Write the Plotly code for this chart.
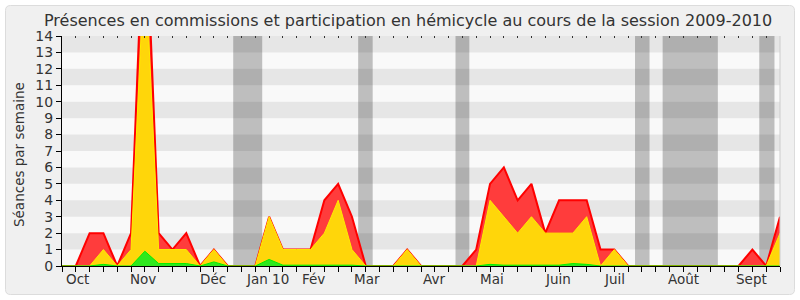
import plotly.graph_objects as go

weeks = list(range(53))
hemicycle_presence = [0, 0, 2, 2, 0, 2, 23, 2, 1, 2, 0, 1, 0, 0, 0, 3, 1, 1, 1, 4, 5, 3, 0, 0, 0, 1,
                      0, 0, 0, 0, 1, 5, 6, 4, 5, 2, 4, 4, 4, 1, 1, 0, 0, 0, 0, 0, 0, 0, 0, 0, 1, 0, 3]
hemicycle_participation = [0, 0, 0, 1, 0, 1, 19, 1, 1, 1, 0, 1, 0, 0, 0, 3, 1, 1, 1, 2, 4, 1, 0, 0, 0, 1,
                           0, 0, 0, 0, 0, 4, 3, 2, 3, 2, 2, 2, 3, 0, 1, 0, 0, 0, 0, 0, 0, 0, 0, 0, 0, 0, 2]
commission_presence = [0, 0, 0, 0.1, 0, 0, 0.9, 0.15, 0.15, 0.15, 0, 0.25, 0, 0, 0, 0.4, 0.05, 0.05, 0.05,
                       0.05, 0.05, 0.05, 0, 0, 0, 0, 0, 0, 0, 0, 0, 0.1, 0.05, 0.05, 0.05, 0.05, 0.05,
                       0.15, 0.1, 0, 0, 0, 0, 0, 0, 0, 0, 0, 0, 0, 0, 0, 0]
vacations = [(12.4, 14.5), (21.45, 22.5), (28.5, 29.5), (41.5, 42.55), (43.5, 47.5), (50.5, 51.6)]
month_labels = ["Oct", "Nov", "Déc", "Jan 10", "Fév", "Mar", "Avr", "Mai", "Juin", "Juil", "Août", "Sept"]
month_pos = [1.09, 5.89, 10.97, 14.9, 18.2, 22.09, 26.94, 31.14, 35.92, 40.0, 45.01, 49.93]
y_ticks = list(range(15))

W, H = 800, 300
L, R, T, B = 62, 20, 36, 34
pw, ph = W - L - R, H - T - B
XMAX, YMAX = 52, 14


def px_x(p):
    return (p - L) / pw


def px_y(p):
    return (H - B - p) / ph


fig = go.Figure()
fig.add_trace(go.Scatter(x=weeks, y=hemicycle_presence, mode="lines", fill="tozeroy",
                         line=dict(color="#ff0000", width=2), fillcolor="#ff3c3c",
                         hoverinfo="skip", showlegend=False))
fig.add_trace(go.Scatter(x=weeks, y=hemicycle_participation, mode="lines", fill="tozeroy",
                         line=dict(color="#ffec00", width=1), fillcolor="#ffd60a",
                         hoverinfo="skip", showlegend=False))
fig.add_trace(go.Scatter(x=weeks, y=commission_presence, mode="lines", fill="tozeroy",
                         line=dict(color="#00ee00", width=1), fillcolor="#2ee81e",
                         hoverinfo="skip", showlegend=False))
fig.add_trace(go.Scatter(x=[0, XMAX], y=[0, 0], xaxis="x2", mode="lines",
                         line=dict(width=0), hoverinfo="skip", showlegend=False))

shapes = []
# outer rounded frame
x0, x1 = px_x(5.5), px_x(794.5)
y0, y1 = px_y(294.5), px_y(5.5)
rx, ry = 5 / pw, 5 / ph
path = (f"M {x0+rx},{y1} L {x1-rx},{y1} Q {x1},{y1} {x1},{y1-ry} L {x1},{y0+ry} Q {x1},{y0} {x1-rx},{y0} "
        f"L {x0+rx},{y0} Q {x0},{y0} {x0},{y0+ry} L {x0},{y1-ry} Q {x0},{y1} {x0+rx},{y1} Z")
shapes.append(dict(type="path", path=path, xref="paper", yref="paper", layer="below",
                   fillcolor="#f0f0f0", line=dict(color="#dcdcdc", width=1)))
# plot area background
shapes.append(dict(type="rect", xref="paper", yref="paper", x0=0, x1=1, y0=0, y1=1, layer="below",
                   fillcolor="#f9f9f9", line=dict(width=0)))
for a, b in vacations:
    shapes.append(dict(type="rect", xref="paper", yref="paper", x0=a / XMAX, x1=b / XMAX, y0=0, y1=1,
                       layer="below", fillcolor="#bebebe", line=dict(width=0)))
for k in range(1, 14, 2):
    shapes.append(dict(type="rect", xref="paper", yref="paper", x0=0, x1=1, y0=k / YMAX, y1=(k + 1) / YMAX,
                       layer="below", fillcolor="rgba(0,0,0,0.075)", line=dict(width=0)))
shapes.append(dict(type="line", xref="paper", yref="paper", x0=1, x1=1, y0=0, y1=1,
                   line=dict(color="#cccccc", width=1)))

annotations = [dict(x=p, y=px_y(279), xref="x", yref="paper", text=t, showarrow=False,
                    font=dict(family="DejaVu Sans", size=13.5, color="#333333"), yanchor="middle")
               for p, t in zip(month_pos, month_labels)]
annotations.append(dict(x=px_x(408), y=px_y(21), xref="paper", yref="paper", showarrow=False,
                        text="Présences en commissions et participation en hémicycle au cours de la session 2009-2010",
                        font=dict(family="DejaVu Sans", size=16, color="#333333"), yanchor="middle"))
annotations.append(dict(x=px_x(19), y=px_y(155), xref="paper", yref="paper", showarrow=False,
                        text="Séances par semaine", textangle=-90, xanchor="center", yanchor="middle",
                        font=dict(family="DejaVu Sans", size=13.5, color="#333333")))

fig.update_layout(
    width=W, height=H, margin=dict(l=L, r=R, t=T, b=B),
    paper_bgcolor="#ffffff", plot_bgcolor="rgba(0,0,0,0)",
    shapes=shapes, annotations=annotations,
    xaxis=dict(range=[0, XMAX], tickvals=weeks, ticktext=[""] * len(weeks), ticks="outside",
               ticklen=5, tickcolor="#000000", showline=True, linecolor="#000000", linewidth=1,
               showgrid=False, zeroline=False, fixedrange=True),
    xaxis2=dict(range=[0, XMAX], overlaying="x", side="top", tickvals=weeks, ticktext=[""] * len(weeks),
                ticks="inside", ticklen=2, tickcolor="#333333", showline=False, showgrid=False,
                zeroline=False),
    yaxis=dict(range=[0, YMAX], tickvals=y_ticks, ticks="outside", ticklen=5, tickcolor="#000000",
               showline=True, linecolor="#000000", linewidth=1, showgrid=False, zeroline=False,
               tickfont=dict(family="DejaVu Sans", size=14, color="#333333")),
    font=dict(family="DejaVu Sans"),
)

fig.write_html("out.html")
